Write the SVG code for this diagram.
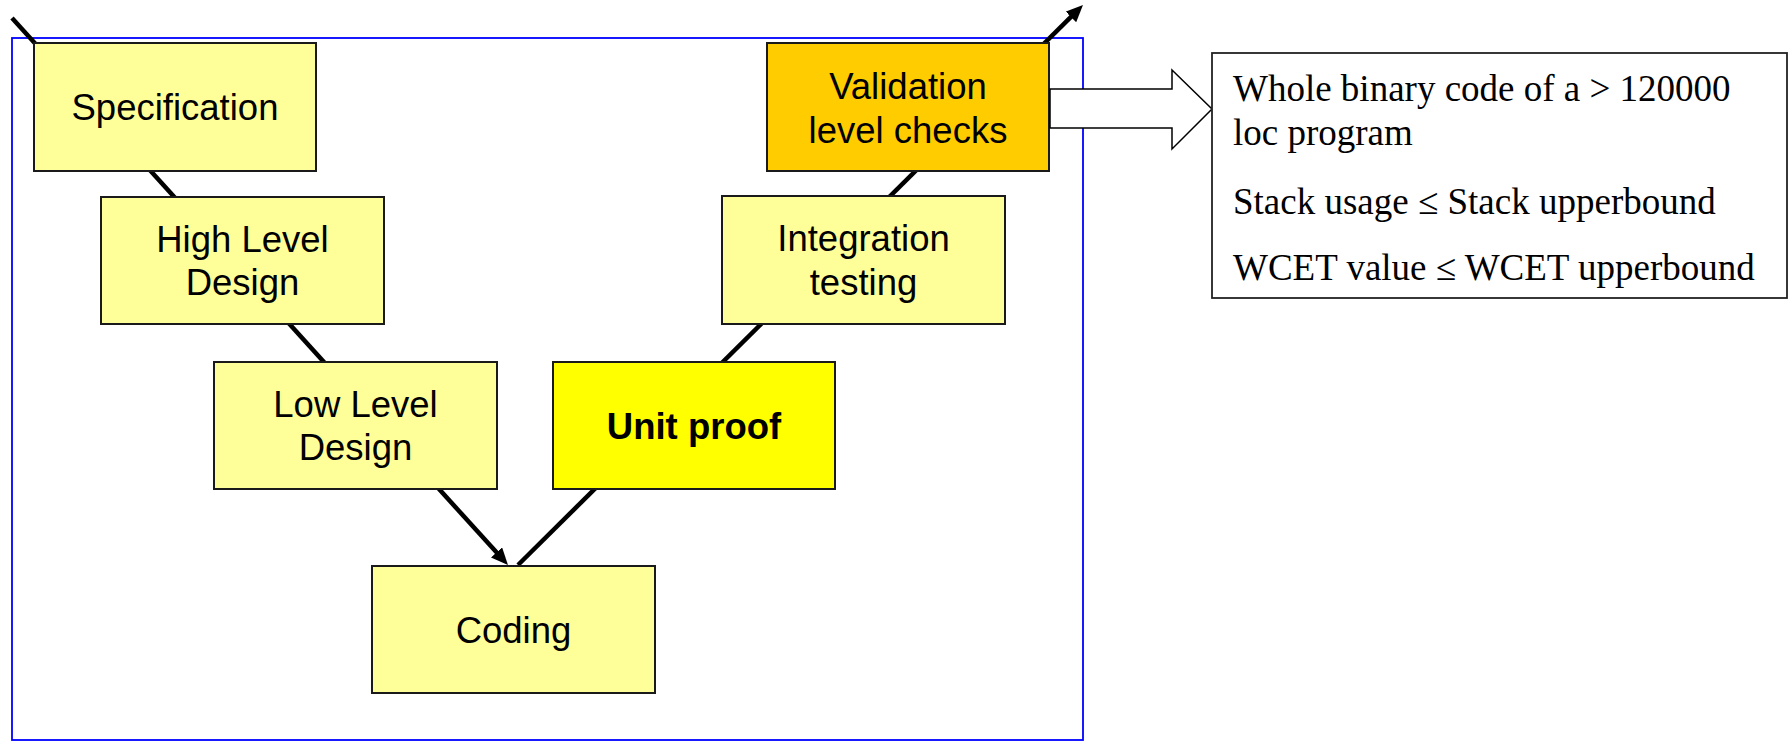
<svg xmlns="http://www.w3.org/2000/svg" width="1789" height="741" viewBox="0 0 1789 741">
<style>
.box{stroke:#1a1a1a;stroke-width:2}
.lt{fill:#FFFF99}
.t{font-family:"Liberation Sans",Arial,sans-serif;font-size:36.5px;fill:#000;text-anchor:middle}
.s{font-family:"Liberation Serif","Times New Roman",serif;font-size:37px;fill:#000}
.conn{stroke:#000;stroke-width:4.5;fill:none}
</style>
<defs>
<marker id="ah" markerUnits="userSpaceOnUse" markerWidth="17" markerHeight="15" viewBox="0 0 17 15" refX="9" refY="7.5" orient="auto">
<path d="M0,0 L17,7.5 L0,15 z" fill="#000"/>
</marker>
</defs>
<rect id="frame" x="12" y="38" width="1071" height="702" fill="#fff" stroke="#0000FF" stroke-width="1.8"/>
<g id="connectors">
<line class="conn" x1="12" y1="18" x2="502.6" y2="559.1" marker-end="url(#ah)"/>
<line class="conn" x1="518" y1="565" x2="1077.3" y2="10.6" marker-end="url(#ah)"/>
</g>
<g id="spec"><rect class="box lt" x="34" y="43" width="282" height="128"/><text class="t" x="175" y="120">Specification</text></g>
<g id="hld"><rect class="box lt" x="101" y="197" width="283" height="127"/><text class="t" x="242.5" y="252">High Level</text><text class="t" x="242.5" y="295">Design</text></g>
<g id="lld"><rect class="box lt" x="214" y="362" width="283" height="127"/><text class="t" x="355.5" y="417">Low Level</text><text class="t" x="355.5" y="460">Design</text></g>
<g id="coding"><rect class="box lt" x="372" y="566" width="283" height="127"/><text class="t" x="513.5" y="643">Coding</text></g>
<g id="unit"><rect class="box" fill="#FFFF00" x="553" y="362" width="282" height="127"/><text class="t" x="694" y="439" font-weight="bold">Unit proof</text></g>
<g id="integ"><rect class="box lt" x="722" y="196" width="283" height="128"/><text class="t" x="863.5" y="251">Integration</text><text class="t" x="863.5" y="295">testing</text></g>
<g id="valid"><rect class="box" fill="#FFCC00" x="767" y="43" width="282" height="128"/><text class="t" x="908" y="99">Validation</text><text class="t" x="908" y="143">level checks</text></g>
<g id="blockarrow"><polygon points="1050,89 1172,89 1172,70 1212,109 1172,149 1172,128 1050,128" fill="#fff" stroke="#000" stroke-width="1.5"/></g>
<g id="note"><rect x="1212" y="53" width="575" height="245" fill="#fff" stroke="#222" stroke-width="1.8"/>
<text class="s" x="1233" y="101">Whole binary code of a &gt; 120000</text>
<text class="s" x="1233" y="145">loc program</text>
<text class="s" x="1233" y="213.5">Stack usage ≤ Stack upperbound</text>
<text class="s" x="1233" y="280">WCET value ≤ WCET upperbound</text>
</g>
</svg>
